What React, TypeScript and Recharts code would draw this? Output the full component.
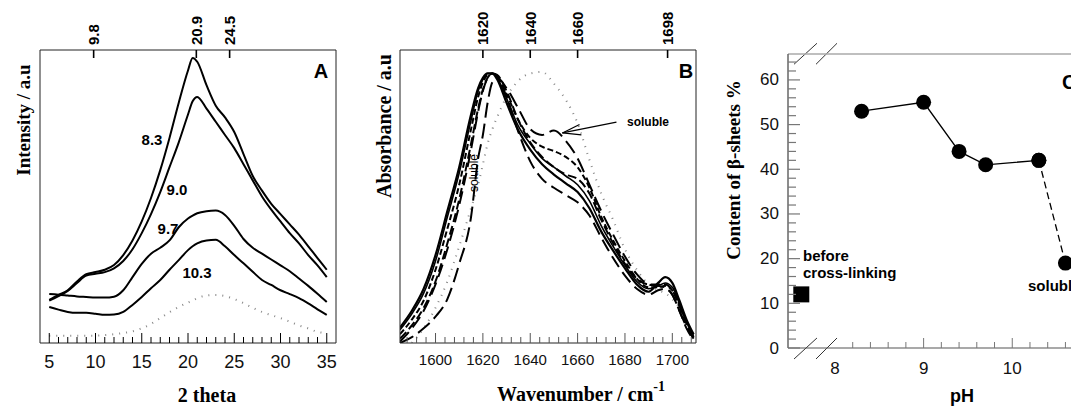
import React from "react";
import {
  ComposedChart,
  Line,
  LineChart,
  ReferenceLine,
  Scatter,
  XAxis,
  YAxis,
} from "recharts";

const SANS = "'Liberation Sans', Arial, sans-serif";
const SERIF = "'Liberation Serif', 'Times New Roman', serif";

// ---- panel A: XRD patterns
const thetaA = [5, 6, 7, 8, 9, 10, 11, 12, 13, 14, 15, 16, 17, 18, 19, 20, 20.5, 21, 22, 23, 24, 25, 26, 27, 28, 29, 30, 31, 32, 33, 34, 35];
const xrdPh83 = [14.7, 16.4, 18, 21, 23.5, 24.2, 25, 26.6, 30, 35, 41.5, 49.5, 59, 70, 82, 93, 97.3, 96, 88, 81, 77, 72, 64.5, 57, 52, 47.5, 44, 40.5, 37, 33, 29, 25];
const xrdPh90 = [14.5, 16, 17.8, 20.5, 23, 23.6, 24.2, 25.5, 28, 32, 37.5, 44, 51.5, 60, 68.5, 78, 82.5, 84, 80, 75.5, 71, 66.5, 61, 55.5, 50, 45.5, 41.5, 37.5, 34, 30, 26.5, 22.5];
const xrdPh97 = [16.7, 16.5, 16.2, 15.9, 15.7, 15.5, 15.5, 15.8, 18, 22.5, 27, 30.5, 32.5, 35, 39.5, 42.5, 43.5, 44.3, 45, 45.2, 43.7, 40, 35.5, 32.5, 30.5, 28.5, 26.5, 24.5, 22, 19.5, 16.8, 14];
const xrdPh103 = [12.3, 11.4, 10.6, 10.3, 10.3, 10, 9.6, 9.7, 10.6, 13, 15.7, 18.7, 21.5, 25, 28.3, 31.7, 33, 34, 35, 35.2, 33, 30, 27.2, 24.3, 21.5, 19.8, 18, 16.7, 15.3, 13.5, 11.5, 9.6];
const xrdSoluble = [2.5, 2.5, 2.5, 2.5, 2.5, 2.5, 2.7, 3, 3.4, 4, 5, 6.5, 8.5, 10.5, 12.3, 13.8, 14.5, 15.3, 16.2, 16.4, 16, 15, 13.6, 12, 10.6, 9.5, 8.5, 7.3, 6, 5, 3.8, 3.4];
const peaksA = [9.8, 20.9, 24.5];

// ---- panel B: FTIR amide I
const waveB = [1585, 1590, 1595, 1600, 1605, 1610, 1615, 1618, 1620, 1622, 1624, 1626, 1630, 1635, 1640, 1645, 1650, 1655, 1660, 1665, 1670, 1675, 1680, 1685, 1690, 1694, 1697, 1700, 1703, 1706, 1709];
const irSolidA = [5.3, 11, 18.5, 30, 45, 60, 78, 87, 90.5, 92, 92, 90, 82, 72.5, 66, 61, 57.5, 54.5, 51.5, 46, 38, 31.5, 25.5, 20, 17.5, 20.5, 22.5, 20.5, 14.5, 8, 3];
const irSolidB = [4.5, 10, 17, 28, 43, 58, 76, 86, 90, 92, 92, 90.5, 83.5, 74, 68, 63, 60, 57, 54, 48.5, 40, 33, 26.5, 21, 18.5, 19.5, 20.5, 19, 13.5, 7, 2.5];
const irShortDash = [3, 8, 14.5, 25, 39, 54, 73, 84, 89, 91.5, 92, 91, 85, 76, 70, 67, 65.5, 63.5, 60, 53, 43, 35, 28, 22, 19, 19, 19.5, 18, 13, 7, 2];
const irMidDash = [1.5, 6, 12, 21, 34, 49, 68, 80, 86.5, 90.5, 92, 91.5, 86, 76, 68.5, 63.5, 60, 57.5, 56, 51, 42, 34, 27, 22, 20, 20, 20, 18, 12.5, 6.5, 1.5];
const irLongDash = [0.5, 5, 11, 20, 32, 47, 66, 79, 86, 90.5, 92, 91, 84, 72, 62, 56, 53, 50.5, 48, 43.5, 36, 29, 23, 18.5, 16.5, 18, 18.5, 16.5, 11, 5, 1];
const irSoluble = [0, 2, 5, 9, 15, 27, 43, 63, 71, 82, 89, 90.5, 87, 80, 73, 71, 72.5, 69, 63, 54, 45, 37, 29.5, 23.5, 20, 19.5, 19, 16.5, 11, 5.5, 1.5];
const irDotted = [null, 0, 5, 12, 21, 33, 46, 54, 61, 68, 73, 77, 84, 89.5, 92, 92.5, 88.5, 83, 75, 62.5, 51, 42, 32, 25, 20, 18, 17, 15, 12, 6.5, 1];
const peaksB = [1620, 1640, 1660, 1698];

// ---- panel C: beta-sheet content vs pH
const phValues = [8.3, 9.0, 9.4, 9.7, 10.3];
const betaContent = [53, 55, 44, 41, 42];
const phSoluble = [10.3, 10.6];
const betaSoluble = [42, 19];
const beforePh = 7.62;
const beforeBeta = 12;

function range(start: number, stop: number, step: number) {
  const out: number[] = [];
  for (let v = start; v <= stop + 1e-9; v += step) out.push(Math.round(v * 100) / 100);
  return out;
}

const rows = (xs: number[], ys: (number | null)[]) => xs.map((x, i) => ({ x, y: ys[i] }));

const topTick = (size: number) => (p: any) => {
  const { x, y, payload } = p;
  return (
    <g>
      <line x1={x} x2={x} y1={y} y2={y + 8} stroke="#000" strokeWidth={1.6} />
      <text
        transform={`translate(${x},${y - 5}) rotate(-90)`}
        textAnchor="start"
        dominantBaseline="central"
        fontSize={size}
        fontWeight="bold"
        fontFamily={SANS}
        fill="#000"
      >
        {payload.value}
      </text>
    </g>
  );
};

const bottomTick = (isMajor: (v: number) => boolean, size: number, dy: number, color = "#000", hide?: (v: number) => boolean) => (p: any) => {
  const { x, y, payload } = p;
  const v = payload.value;
  const major = isMajor(v);
  return (
    <g>
      {!(hide && hide(v)) && (
        <line x1={x} x2={x} y1={y} y2={y - (major ? 10 : 6)} stroke={color} strokeWidth={1} />
      )}
      {major && (
        <text x={x} y={y + dy} textAnchor="middle" fontSize={size} fontFamily={SANS} fill="#111">
          {v}
        </text>
      )}
    </g>
  );
};

const leftTickC = (p: any) => {
  const { x, y, payload } = p;
  const v = payload.value;
  const major = v % 10 === 0;
  return (
    <g>
      <line x1={x} x2={x + (major ? 12 : 8)} y1={y} y2={y} stroke="#777" strokeWidth={1.2} />
      {major && (
        <text x={x - 9} y={y} textAnchor="end" dominantBaseline="central" fontSize={17} fontFamily={SANS} fill="#111">
          {v}
        </text>
      )}
    </g>
  );
};

function Txt({ x, y, children, style, rotate, anchor = "center" }: any) {
  const tx = anchor === "left" ? "0" : "-50%";
  return (
    <div
      style={{
        position: "absolute",
        left: x,
        top: y,
        transform: `translate(${tx},-50%)${rotate ? ` rotate(${rotate}deg)` : ""}`,
        whiteSpace: "nowrap",
        lineHeight: 1,
        color: "#000",
        ...style,
      }}
    >
      {children}
    </div>
  );
}

// plot box of A and B: x 40..336 inside each 360px cell, y 50..343
const margin = { top: 10, right: 14, bottom: 24, left: 10 };

function PanelA() {
  const series = [xrdPh83, xrdPh90, xrdPh97, xrdPh103];
  return (
    <LineChart width={360} height={407} margin={margin}>
      <XAxis
        type="number"
        dataKey="x"
        domain={[4, 36]}
        allowDataOverflow
        ticks={range(5, 35, 1)}
        interval={0}
        height={40}
        tickSize={0}
        tickMargin={0}
        tickLine={false}
        axisLine={{ stroke: "#222" }}
        tick={bottomTick((v) => v % 5 === 0, 18, 25)}
      />
      <XAxis
        xAxisId="top"
        orientation="top"
        type="number"
        dataKey="x"
        domain={[4, 36]}
        allowDataOverflow
        ticks={peaksA}
        interval={0}
        height={40}
        tickSize={0}
        tickMargin={0}
        tickLine={false}
        axisLine={{ stroke: "#222" }}
        tick={topTick(15)}
      />
      <YAxis type="number" domain={[0, 100]} allowDataOverflow width={30} tick={false} tickLine={false} axisLine={{ stroke: "#222" }} />
      <YAxis yAxisId="r" orientation="right" type="number" domain={[0, 100]} width={10} tick={false} tickLine={false} axisLine={{ stroke: "#222" }} />
      <Line data={rows(thetaA, xrdSoluble)} dataKey="y" type="monotone" stroke="#888" strokeWidth={2} strokeDasharray="1 6" dot={false} isAnimationActive={false} />
      {series.map((s, i) => (
        <Line key={i} data={rows(thetaA, s)} dataKey="y" type="monotone" stroke="#000" strokeWidth={2} dot={false} isAnimationActive={false} />
      ))}
    </LineChart>
  );
}

function PanelB() {
  const styles = [
    { d: irSolidA, dash: undefined, w: 2.2 },
    { d: irSolidB, dash: undefined, w: 1.6 },
    { d: irShortDash, dash: "6 3", w: 2 },
    { d: irMidDash, dash: "9 4", w: 2 },
    { d: irLongDash, dash: "13 6", w: 2 },
    { d: irSoluble, dash: "15 6", w: 2 },
  ];
  return (
    <LineChart width={360} height={407} margin={margin}>
      <XAxis
        type="number"
        dataKey="x"
        domain={[1585, 1710]}
        allowDataOverflow
        ticks={range(1588, 1708, 4)}
        interval={0}
        height={40}
        tickSize={0}
        tickMargin={0}
        tickLine={false}
        axisLine={{ stroke: "#222" }}
        tick={bottomTick((v) => (v - 1600) % 20 === 0, 15, 22, "#555")}
      />
      <XAxis
        xAxisId="top"
        orientation="top"
        type="number"
        dataKey="x"
        domain={[1585, 1710]}
        allowDataOverflow
        ticks={peaksB}
        interval={0}
        height={40}
        tickSize={0}
        tickMargin={0}
        tickLine={false}
        axisLine={{ stroke: "#222" }}
        tick={topTick(15)}
      />
      <YAxis type="number" domain={[0, 100]} allowDataOverflow width={30} tick={false} tickLine={false} axisLine={{ stroke: "#222" }} />
      <YAxis yAxisId="r" orientation="right" type="number" domain={[0, 100]} width={10} tick={false} tickLine={false} axisLine={{ stroke: "#222" }} />
      <Line data={rows(waveB, irDotted)} dataKey="y" type="monotone" stroke="#888" strokeWidth={2} strokeDasharray="1 6" dot={false} isAnimationActive={false} />
      {styles.map((s, i) => (
        <Line
          key={i}
          data={rows(waveB, s.d)}
          dataKey="y"
          type="monotone"
          stroke="#000"
          strokeWidth={s.w}
          strokeDasharray={s.dash}
          dot={false}
          isAnimationActive={false}
        />
      ))}
      <ReferenceLine segment={[{ x: 1676.4, y: 75.4 }, { x: 1653.6, y: 71.7 }]} stroke="#000" strokeWidth={1.2} ifOverflow="visible" />
      <ReferenceLine segment={[{ x: 1653.6, y: 71.7 }, { x: 1660.8, y: 74.6 }]} stroke="#000" strokeWidth={1.2} ifOverflow="visible" />
      <ReferenceLine segment={[{ x: 1653.6, y: 71.7 }, { x: 1661.6, y: 71 }]} stroke="#000" strokeWidth={1.2} ifOverflow="visible" />
    </LineChart>
  );
}

const circle = (p: any) => <circle key={p.index} cx={p.cx} cy={p.cy} r={7.5} fill="#000" />;

function PanelC() {
  const breaks = [
    [7.538, -2.46, 7.797, 2.24],
    [7.786, -2.46, 8.023, 2.24],
    [7.538, 63.5, 7.797, 68.2],
    [7.786, 63.5, 8.023, 68.2],
  ];
  // plot box: x 788..1100, y 54..348 (cut by the page edge at 1071)
  return (
    <ComposedChart width={400} height={407} margin={{ top: 34, right: 20, bottom: 19, left: 28 }}>
      <XAxis
        type="number"
        dataKey="x"
        domain={[7.47, 10.99]}
        allowDataOverflow
        ticks={range(8, 10.6, 0.2)}
        interval={0}
        height={40}
        tickSize={0}
        tickMargin={0}
        tickLine={false}
        axisLine={{ stroke: "#555", strokeWidth: 1.2 }}
        tick={bottomTick((v) => Number.isInteger(v), 17, 26, "#777", (v) => v === 8)}
      />
      <XAxis
        xAxisId="top"
        orientation="top"
        type="number"
        dataKey="x"
        domain={[7.47, 10.99]}
        allowDataOverflow
        height={20}
        tick={false}
        tickLine={false}
        axisLine={{ stroke: "#aaa", strokeWidth: 1.5 }}
      />
      <YAxis
        type="number"
        dataKey="y"
        domain={[0, 65.8]}
        allowDataOverflow
        ticks={range(0, 64, 2)}
        interval={0}
        width={40}
        tickSize={0}
        tickMargin={0}
        tickLine={false}
        axisLine={{ stroke: "#666", strokeWidth: 1.5 }}
        tick={leftTickC}
      />
      <Line data={rows(phValues, betaContent)} dataKey="y" type="linear" stroke="#000" strokeWidth={1.3} dot={circle} isAnimationActive={false} />
      <Line data={rows(phSoluble, betaSoluble)} dataKey="y" type="linear" stroke="#000" strokeWidth={1.3} strokeDasharray="7 4" dot={circle} isAnimationActive={false} />
      <Scatter
        data={[{ x: beforePh, y: beforeBeta }]}
        dataKey="y"
        isAnimationActive={false}
        shape={(p: any) => <rect x={p.cx - 8} y={p.cy - 8} width={16} height={16} fill="#000" />}
      />
      {breaks.map((b, i) => (
        <ReferenceLine key={i} segment={[{ x: b[0], y: b[1] }, { x: b[2], y: b[3] }]} stroke="#333" strokeWidth={1} ifOverflow="visible" />
      ))}
    </ComposedChart>
  );
}

export default function App() {
  const title = { fontFamily: SERIF, fontWeight: "bold", fontSize: 20 };
  const sansB = { fontFamily: SANS, fontWeight: "bold" };
  return (
    <div style={{ position: "absolute", left: 0, top: 0, width: 1071, height: 407, overflow: "hidden", background: "#fff" }}>
      <div style={{ position: "absolute", left: 0, top: 0 }}>
        <PanelA />
      </div>
      <div style={{ position: "absolute", left: 360, top: 0 }}>
        <PanelB />
      </div>
      <div style={{ position: "absolute", left: 720, top: 0 }}>
        <PanelC />
      </div>

      {/* panel A text */}
      <Txt x={23} y={120} rotate={-90} style={{ ...title, fontSize: 19 }}>Intensity / a.u</Txt>
      <Txt x={207} y={395} style={title}>2 theta</Txt>
      <Txt x={321} y={71} style={{ ...sansB, fontSize: 20 }}>A</Txt>
      <Txt x={152} y={139} style={{ ...sansB, fontSize: 15 }}>8.3</Txt>
      <Txt x={177} y={189} style={{ ...sansB, fontSize: 15 }}>9.0</Txt>
      <Txt x={168} y={228} style={{ ...sansB, fontSize: 15 }}>9.7</Txt>
      <Txt x={197} y={272} style={{ ...sansB, fontSize: 15 }}>10.3</Txt>

      {/* panel B text */}
      <Txt x={384} y={126} rotate={-90} style={{ ...title, fontSize: 20 }}>Absorbance / a.u</Txt>
      <Txt x={581} y={392} style={title}>
        Wavenumber / cm<sup style={{ fontSize: 14, verticalAlign: "0.7em" }}>-1</sup>
      </Txt>
      <Txt x={686} y={71} style={{ ...sansB, fontSize: 20 }}>B</Txt>
      <Txt x={627} y={122} anchor="left" style={{ ...sansB, fontSize: 12 }}>soluble</Txt>
      <Txt x={474} y={173} rotate={-90} style={{ fontFamily: SANS, fontSize: 12 }}>soluble</Txt>

      {/* panel C text */}
      <Txt x={733} y={170} rotate={-90} style={{ ...title, fontSize: 19 }}>Content of β-sheets %</Txt>
      <Txt x={962} y={396} style={{ ...sansB, fontSize: 18 }}>pH</Txt>
      <Txt x={1062} y={82} anchor="left" style={{ ...sansB, fontSize: 20 }}>C</Txt>
      <Txt x={803} y={255} anchor="left" style={{ ...sansB, fontSize: 15 }}>before</Txt>
      <Txt x={803} y={272} anchor="left" style={{ ...sansB, fontSize: 15 }}>cross-linking</Txt>
      <Txt x={1028} y={285} anchor="left" style={{ ...sansB, fontSize: 15 }}>soluble</Txt>
    </div>
  );
}
